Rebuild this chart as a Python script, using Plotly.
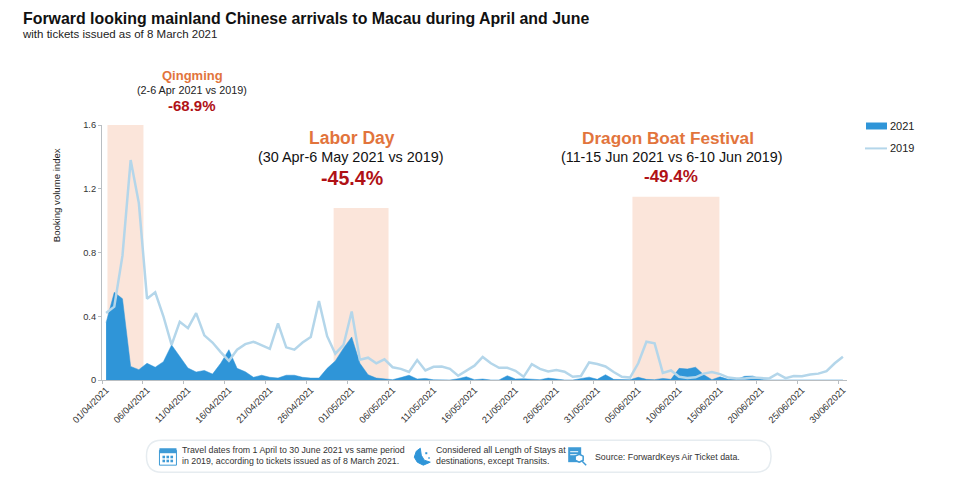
import pandas as pd
import plotly.graph_objects as go

W, H = 959, 479
L, R, T, B = 101.5, 847, 124.5, 380.5

FONT = "Liberation Sans"
BLUE = "#2f95d8"
LIGHT = "#b4d6ea"
PEACH = "#fbe5da"
ORANGE = "#e2743c"
RED = "#b01116"
ICON = "#3f9bd6"

dates = pd.date_range("2021-04-01", "2021-06-30", freq="D")

values_2019 = [
    0.42, 0.46, 0.78, 1.38, 1.11, 0.51, 0.55, 0.40, 0.22, 0.365,
    0.325, 0.42, 0.28, 0.235, 0.175, 0.12, 0.19, 0.225, 0.24, 0.22,
    0.195, 0.355, 0.205, 0.19, 0.235, 0.27, 0.495, 0.275, 0.165, 0.22,
    0.43, 0.127, 0.14, 0.105, 0.13, 0.08, 0.07, 0.05, 0.125, 0.06,
    0.083, 0.085, 0.07, 0.027, 0.058, 0.09, 0.145, 0.105, 0.077, 0.077,
    0.058, 0.02, 0.10, 0.07, 0.054, 0.062, 0.052, 0.02, 0.025, 0.11,
    0.10, 0.085, 0.05, 0.02, 0.015, 0.105, 0.24, 0.23, 0.045, 0.06,
    0.02, 0.012, 0.017, 0.04, 0.05, 0.037, 0.015, 0.01, 0.01, 0.015,
    0.012, 0.01, 0.04, 0.012, 0.025, 0.023, 0.035, 0.04, 0.056, 0.105,
    0.146,
]
values_2021 = [
    0.36, 0.55, 0.51, 0.085, 0.065, 0.105, 0.08, 0.115, 0.22, 0.145,
    0.075, 0.05, 0.06, 0.037, 0.105, 0.19, 0.073, 0.052, 0.017, 0.03,
    0.017, 0.012, 0.03, 0.03, 0.017, 0.012, 0.012, 0.073, 0.12, 0.20,
    0.27, 0.105, 0.033, 0.012, 0.008, 0.002, 0.015, 0.03, 0.006, 0.01,
    0.001, 0.0, 0.0, 0.008, 0.02, 0.002, 0.006, 0.0, 0.0, 0.027,
    0.006, 0.008, 0.006, 0.002, 0.012, 0.004, 0.0, 0.0, 0.01, 0.018,
    0.004, 0.033, 0.004, 0.002, 0.002, 0.017, 0.004, 0.002, 0.01, 0.004,
    0.073, 0.069, 0.08, 0.033, 0.002, 0.02, 0.004, 0.004, 0.023, 0.025,
    0.004, 0.0, 0.0, 0.0, 0.0, 0.0, 0.003, 0.0, 0.0, 0.0,
    0.0,
]

holiday_spans = [
    ("2021-04-01 04:00", "2021-04-05 13:30", 1.6),
    ("2021-04-28 19:00", "2021-05-05 12:00", 1.08),
    ("2021-06-04 07:00", "2021-06-14 22:00", 1.15),
]

tick_dates = dates[::5]
minor_ticks = tick_dates - pd.Timedelta(hours=12)


def px(x):
    return (x - L) / (R - L)


def py(y):
    return (B - y) / (B - T)


def text(x, y, s, size, color="#111", bold=False, anchor="center"):
    fig.add_annotation(
        x=px(x), y=py(y), xref="paper", yref="paper", text=f"<b>{s}</b>" if bold else s,
        showarrow=False, xanchor=anchor, yanchor="middle",
        font=dict(family=FONT, size=size, color=color), borderpad=0, align="left",
    )


def box(x0, y0, x1, y1, fill, line=None):
    fig.add_shape(
        type="rect", xref="paper", yref="paper", x0=px(x0), x1=px(x1), y0=py(y0), y1=py(y1),
        fillcolor=fill, line=dict(color=line or fill, width=1 if line else 0), layer="above",
    )


def path(points, fill=None, line=None, width=1):
    d = "M " + " L ".join(f"{px(a):.5f},{py(b):.5f}" for a, b in points) + (" Z" if fill else "")
    fig.add_shape(
        type="path", xref="paper", yref="paper", path=d,
        fillcolor=fill or "rgba(0,0,0,0)", line=dict(color=line or fill, width=width), layer="above",
    )


fig = go.Figure()

for start, end, top in holiday_spans:
    fig.add_shape(type="rect", x0=start, x1=end, y0=0, y1=top, xref="x", yref="y",
                  fillcolor=PEACH, line_width=0, layer="below")

fig.add_trace(go.Scatter(x=dates, y=values_2021, name="2021", mode="lines", fill="tozeroy",
                         fillcolor=BLUE, line=dict(color=BLUE, width=0.5)))
fig.add_trace(go.Scatter(x=dates, y=values_2019, name="2019", mode="lines",
                         line=dict(color=LIGHT, width=2.5)))

fig.update_layout(
    width=W, height=H, autosize=False,
    paper_bgcolor="white", plot_bgcolor="rgba(0,0,0,0)",
    margin=dict(l=L, r=W - R, t=T, b=H - B, autoexpand=False),
    font=dict(family=FONT, color="#222", size=9),
    showlegend=False,
    xaxis=dict(
        type="date", range=[dates[0] - pd.Timedelta(hours=12), dates[-1] + pd.Timedelta(hours=12)],
        tickmode="array", tickvals=list(tick_dates), ticktext=[d.strftime("%d/%m/%Y") for d in tick_dates],
        tickangle=-45, ticks="", showgrid=False, zeroline=False,
        showline=True, linecolor="#b9bec2", linewidth=1,
        tickfont=dict(size=9.3, color="#333"),
        minor=dict(tickmode="array", tickvals=list(minor_ticks), ticks="outside", ticklen=3,
                   tickcolor="#b9bec2", showgrid=False),
    ),
    yaxis=dict(
        range=[0, 1.6], tickvals=[0, 0.4, 0.8, 1.2, 1.6], ticktext=["0", "0.4", "0.8", "1.2", "1.6"],
        ticks="outside", ticklen=3, tickcolor="#b9bec2", showgrid=False, zeroline=False,
        showline=True, linecolor="#b9bec2", linewidth=1, tickfont=dict(size=9.3, color="#333"),
    ),
)

# headings
text(21, 18, "Forward looking mainland Chinese arrivals to Macau during April and June", 15.9, "#111", True, "left")
text(20, 33, "with tickets issued as of 8 March 2021", 11.5, "#222", False, "left")
fig.add_annotation(x=px(56), y=py(195.5), xref="paper", yref="paper", text="Booking volume index", showarrow=False,
                   textangle=-90, xanchor="center", yanchor="middle", font=dict(family=FONT, size=9.6, color="#222"))

# holiday call-outs
text(192, 75, "Qingming", 13, ORANGE, True)
text(192, 89, "(2-6 Apr 2021 vs 2019)", 10.8, "#222")
text(192, 105, "-68.9%", 15, RED, True)
text(352, 138, "Labor Day", 17.5, ORANGE, True)
text(351, 157, "(30 Apr-6 May 2021 vs 2019)", 14.4, "#111")
text(352, 178, "-45.4%", 19.6, RED, True)
text(668, 138, "Dragon Boat Festival", 17.2, ORANGE, True)
text(671, 157, "(11-15 Jun 2021 vs 6-10 Jun 2019)", 14.3, "#111")
text(671, 176, "-49.4%", 17, RED, True)

# legend
box(866, 122, 887, 129, BLUE)
text(889, 126, "2021", 11, "#222", False, "left")
path([(865, 148), (887, 148)], line=LIGHT, width=2)
text(889, 148, "2019", 11, "#222", False, "left")

# footer pill
r = 15
fig.add_shape(
    type="path", xref="paper", yref="paper", layer="above",
    path=(f"M {px(146 + r)},{py(441)} L {px(771 - r)},{py(441)} "
          f"Q {px(771)},{py(441)} {px(771)},{py(457)} Q {px(771)},{py(473)} {px(771 - r)},{py(473)} "
          f"L {px(146 + r)},{py(473)} Q {px(146)},{py(473)} {px(146)},{py(457)} "
          f"Q {px(146)},{py(441)} {px(146 + r)},{py(441)} Z"),
    fillcolor="white", line=dict(color="#e6ecf0", width=1.5),
)
text(181, 451, "Travel dates from 1 April to 30 June 2021 vs same period", 8.8, "#333", False, "left")
text(181, 462, "in 2019, according to tickets issued as of 8 March 2021.", 8.8, "#333", False, "left")
text(435, 451, "Considered all Length of Stays at", 8.8, "#333", False, "left")
text(435, 462, "destinations, except Transits.", 8.8, "#333", False, "left")
text(594, 458, "Source: ForwardKeys Air Ticket data.", 8.8, "#333", False, "left")

# calendar icon
box(159, 451, 176, 466, "white", ICON)
box(159, 449, 176, 454, ICON)
for cx in (162, 166, 170):
    for cy in (456.5, 460.5):
        box(cx, cy, cx + 2.6, cy + 2.6, ICON)
# moon icon
path([(420, 449), (416, 452), (414, 458), (417, 463), (423, 466), (430, 463), (424, 461), (421, 456)], fill=BLUE)
box(425, 453, 427, 455, BLUE)
box(428, 458, 429.5, 459.5, BLUE)
# document icon
box(568, 448, 581, 463, ICON)
box(570, 452, 578, 453, "white")
box(570, 455, 578, 456, "white")
path([(579, 455), (575, 457), (575, 461), (579, 463), (583, 461), (583, 457)], fill="white", line=ICON, width=1.5)
path([(582, 462), (586, 466)], line=ICON, width=1.5)

fig.write_html("out.html", config=dict(displayModeBar=False), post_script="document.body.style.margin='0';")
